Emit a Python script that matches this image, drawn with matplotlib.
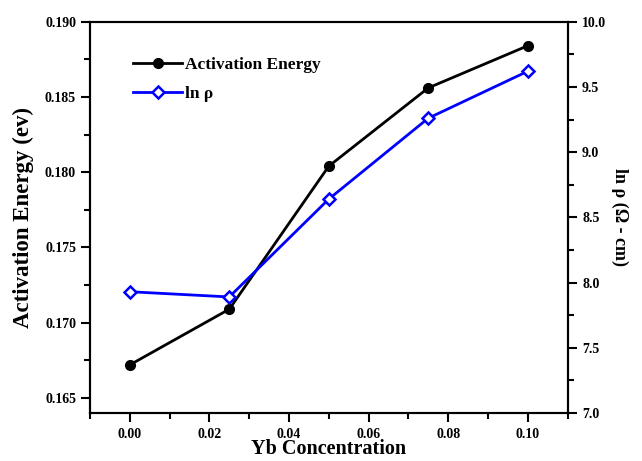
import matplotlib
matplotlib.use("Agg")
from matplotlib import pyplot as plt
from matplotlib.ticker import MultipleLocator, FormatStrFormatter

plt.rcParams['font.family'] = ['Liberation Serif', 'DejaVu Serif']
plt.rcParams['font.weight'] = 'bold'

# data
yb = [0.0, 0.025, 0.05, 0.075, 0.10]
act_energy = [0.1672, 0.1709, 0.1804, 0.1856, 0.1884]
ln_rho = [7.93, 7.89, 8.64, 9.26, 9.62]

fig = plt.figure(figsize=(6.42, 4.61), dpi=100)
ax = fig.add_axes([0.1402, 0.104, 0.7438, 0.849])
ax2 = ax.twinx()

l1, = ax.plot(yb, act_energy, color='black', lw=2.0, marker='o', ms=7,
              label='Activation Energy')
l2, = ax2.plot(yb, ln_rho, color='#0000ff', lw=2.0, marker='D', ms=6.5,
               mfc='white', mec='#0000ff', mew=1.8, label='ln ρ')

ax.set_xlim(-0.01, 0.11)
ax.set_ylim(0.164, 0.190)
ax2.set_ylim(7.0, 10.0)

ax.xaxis.set_major_locator(MultipleLocator(0.02))
ax.xaxis.set_minor_locator(MultipleLocator(0.01))
ax.xaxis.set_major_formatter(FormatStrFormatter('%.2f'))
ax.yaxis.set_major_locator(MultipleLocator(0.005))
ax.yaxis.set_minor_locator(MultipleLocator(0.0025))
ax.yaxis.set_major_formatter(FormatStrFormatter('%.3f'))
ax2.yaxis.set_major_locator(MultipleLocator(0.5))
ax2.yaxis.set_minor_locator(MultipleLocator(0.25))
ax2.yaxis.set_major_formatter(FormatStrFormatter('%.1f'))

for a in (ax, ax2):
    for s in a.spines.values():
        s.set_linewidth(1.5)
    a.tick_params(which='major', direction='out', length=6.5, width=1.5, labelsize=10)
    a.tick_params(which='minor', direction='out', length=4, width=1.5)
ax.tick_params(axis='y', which='both', right=False)
ax.tick_params(axis='x', which='both', top=False, pad=4)
ax2.tick_params(axis='y', which='both', left=False, pad=4)
for lab in ax.get_xticklabels() + ax.get_yticklabels() + ax2.get_yticklabels():
    lab.set_fontweight('bold')

ax.set_xlabel('Yb Concentration', fontsize=14.5, fontweight='bold', labelpad=-1)
ax.set_ylabel('Activation Energy (ev)', fontsize=16.5, fontweight='bold', labelpad=8)
ax2.set_ylabel('ln ρ (Ω - cm)', fontsize=13, fontweight='bold', rotation=270, labelpad=16)

ax2.legend([l1, l2], ['Activation Energy', 'ln ρ'], loc='upper left',
           bbox_to_anchor=(0.058, 0.95), frameon=False,
           handlelength=2.8, handletextpad=0.15, labelspacing=0.75,
           prop={'weight': 'bold', 'size': 12.5})

fig.savefig('out.png', dpi=100)
